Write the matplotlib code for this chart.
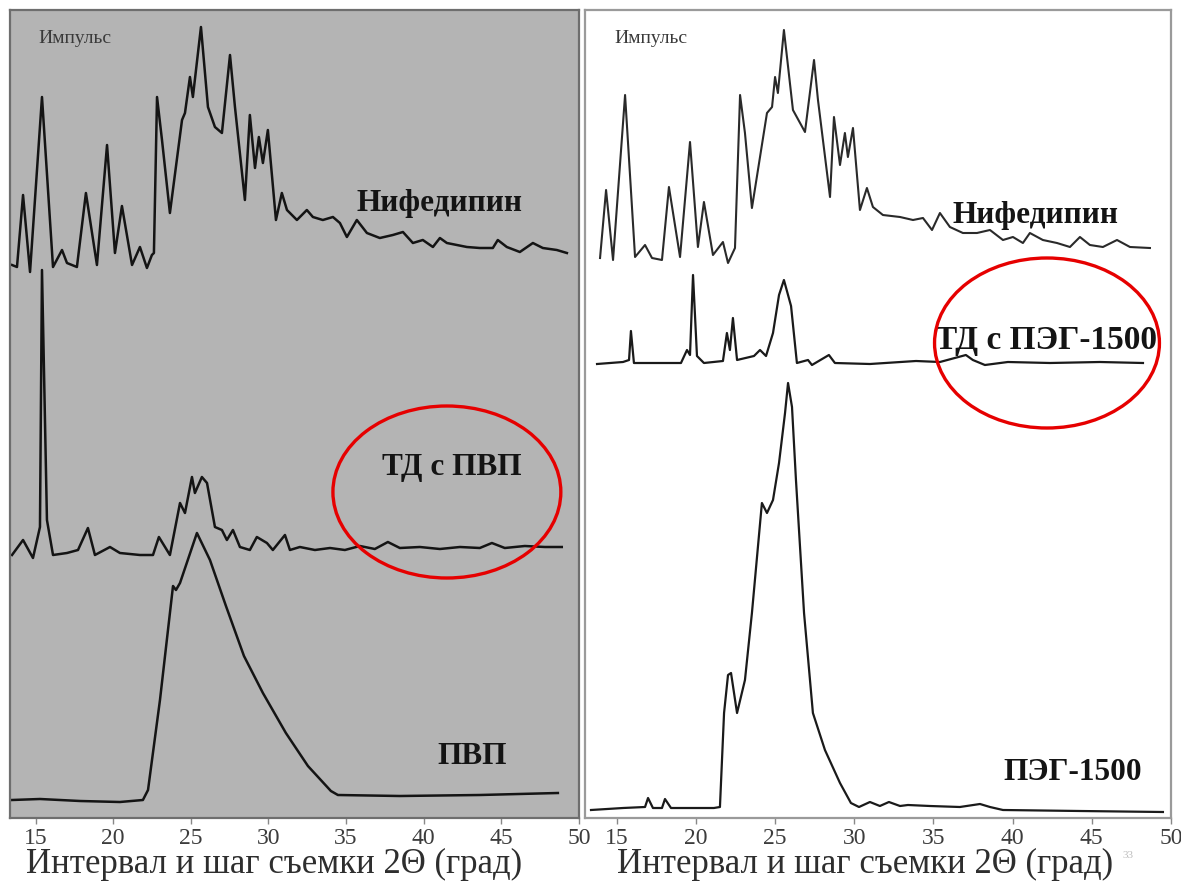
import matplotlib.pyplot as plt
from matplotlib.patches import Ellipse

plt.rcParams['font.family'] = ['Liberation Serif', 'DejaVu Serif']

# --- Рентгенограммы: 2θ (град) и интенсивность (импульсы, со смещением) ---

# левая панель: нифедипин, ТД с ПВП, ПВП
nif_l_2t = [13.48, 13.80, 14.19, 14.64, 15.41, 16.12, 16.70, 17.02, 17.66, 18.24,
            18.95, 19.60, 20.11, 20.56, 21.21, 21.72, 22.17, 22.49, 22.62, 22.82,
            23.14, 23.65, 24.43, 24.62, 24.94, 25.13, 25.65, 26.10, 26.55, 27.00,
            27.52, 27.84, 28.48, 28.80, 29.13, 29.38, 29.64, 29.96, 30.48, 30.86,
            31.19, 31.83, 32.47, 32.86, 33.50, 34.15, 34.60, 35.05, 35.69, 36.34,
            37.17, 38.01, 38.66, 39.30, 39.94, 40.59, 41.04, 41.49, 42.78, 43.61,
            44.45, 44.77, 45.35, 46.19, 47.03, 47.67, 48.57, 49.22]
nif_l_int = [553, 551, 623, 546, 721, 551, 568, 555, 551, 625,
             553, 673, 565, 612, 553, 571, 550, 563, 565, 721,
             678, 605, 698, 705, 741, 721, 791, 711, 691, 685,
             763, 711, 618, 703, 650, 681, 655, 688, 598, 625,
             608, 598, 608, 601, 598, 601, 595, 581, 598, 585,
             580, 583, 586, 575, 578, 571, 580, 575, 571, 570,
             570, 578, 571, 566, 575, 570, 568, 565]

tdpvp_2t = [13.48, 14.19, 14.83, 15.28, 15.41, 15.73, 16.12, 17.02, 17.73, 18.37,
            18.82, 19.79, 20.43, 21.72, 22.56, 22.94, 23.65, 24.30, 24.62, 25.07,
            25.26, 25.71, 26.04, 26.55, 27.00, 27.32, 27.71, 28.16, 28.80, 29.25,
            29.90, 30.28, 31.06, 31.38, 32.02, 32.99, 33.96, 34.92, 35.89, 36.85,
            37.69, 38.46, 39.75, 41.04, 42.33, 43.61, 44.39, 45.22, 46.51, 47.80,
            48.89]
tdpvp_int = [263, 278, 260, 291, 548, 298, 263, 265, 268, 290,
             263, 271, 265, 263, 263, 281, 263, 315, 305, 341,
             325, 341, 335, 291, 288, 278, 288, 271, 268, 281,
             275, 268, 283, 268, 271, 268, 270, 268, 272, 269,
             276, 270, 271, 269, 271, 270, 275, 270, 272, 271,
             271]

pvp_2t = [13.48, 15.28, 17.86, 20.43, 21.91, 22.24, 23.01, 23.85, 24.04, 24.30,
          25.39, 26.23, 27.26, 28.42, 29.64, 31.12, 32.54, 34.02, 34.47, 38.46,
          43.61, 48.64]
pvp_int = [18, 19, 17, 16, 18, 28, 118, 232, 228, 235,
           285, 258, 212, 162, 125, 85, 52, 27, 23, 22,
           23, 25]

# правая панель: нифедипин, ТД с ПЭГ-1500, ПЭГ-1500
nif_r_2t = [13.95, 14.33, 14.77, 15.53, 16.16, 16.79, 17.23, 17.86, 18.30, 19.00,
            19.63, 20.13, 20.51, 21.08, 21.71, 22.03, 22.47, 22.79, 23.10, 23.54,
            24.49, 24.81, 25.00, 25.18, 25.56, 26.13, 26.89, 27.46, 27.71, 28.47,
            28.72, 29.10, 29.41, 29.60, 29.92, 30.36, 30.80, 31.18, 31.81, 32.89,
            33.71, 34.34, 34.91, 35.41, 36.04, 36.86, 37.75, 38.57, 39.39, 40.02,
            40.65, 41.09, 41.91, 42.80, 43.62, 44.25, 44.88, 45.70, 46.59, 47.41,
            48.67]
nif_r_int = [560, 628, 558, 723, 561, 573, 560, 558, 631, 561,
             676, 571, 616, 563, 576, 555, 570, 723, 685, 610,
             705, 711, 741, 725, 788, 708, 686, 758, 718, 621,
             701, 653, 685, 661, 690, 608, 630, 611, 603, 601,
             598, 600, 588, 605, 591, 585, 585, 588, 578, 581,
             575, 585, 578, 575, 571, 581, 573, 571, 578, 571,
             570]

tdpeg_2t = [13.76, 15.40, 15.78, 15.90, 16.09, 19.06, 19.44, 19.63, 19.82, 20.07,
            20.51, 21.71, 21.96, 22.15, 22.34, 22.60, 23.67, 24.05, 24.43, 24.87,
            25.25, 25.56, 26.01, 26.38, 27.08, 27.33, 28.40, 28.78, 30.99, 33.90,
            35.41, 37.05, 37.49, 38.25, 39.70, 42.36, 45.51, 48.23]
tdpeg_int = [454, 456, 458, 487, 455, 455, 468, 463, 543, 462,
             455, 457, 485, 468, 500, 458, 462, 468, 462, 485,
             523, 538, 512, 455, 458, 453, 463, 455, 454, 457,
             456, 463, 458, 453, 456, 455, 456, 455]

peg_2t = [13.38, 15.40, 16.79, 16.98, 17.29, 17.86, 18.05, 18.43, 21.14, 21.52,
          21.78, 22.03, 22.22, 22.60, 23.10, 23.54, 24.17, 24.49, 24.87, 25.25,
          25.63, 25.82, 26.07, 26.32, 26.83, 27.39, 28.15, 29.10, 29.79, 30.30,
          30.99, 31.62, 32.19, 32.89, 33.39, 34.78, 36.67, 37.94, 38.57, 39.39,
          44.25, 49.49]
peg_int = [8, 10, 11, 20, 10, 10, 19, 10, 10, 11,
           105, 143, 145, 105, 138, 205, 315, 305, 318, 355,
           405, 435, 411, 338, 205, 105, 68, 35, 15, 11,
           16, 12, 16, 12, 13, 12, 11, 14, 11, 8,
           7, 6]

ticks = [15, 20, 25, 30, 35, 40, 45, 50]
xlabel = 'Интервал и шаг съемки 2Θ (град)'

fig = plt.figure(figsize=(11.81, 8.82), dpi=100)
ax_l = fig.add_axes([10 / 1181, 64 / 882, 569 / 1181, 808 / 882])
ax_r = fig.add_axes([585 / 1181, 64 / 882, 586 / 1181, 808 / 882])

ax_l.set_facecolor('#b4b4b4')
ax_r.set_facecolor('white')

ax_l.plot(nif_l_2t, nif_l_int, color='#141414', lw=1.8)
ax_l.plot(tdpvp_2t, tdpvp_int, color='#141414', lw=1.8)
ax_l.plot(pvp_2t, pvp_int, color='#141414', lw=1.8)

ax_r.plot(nif_r_2t, nif_r_int, color='#2a2a2a', lw=1.5)
ax_r.plot(tdpeg_2t, tdpeg_int, color='#1a1a1a', lw=1.6)
ax_r.plot(peg_2t, peg_int, color='#1a1a1a', lw=1.6)

ax_l.set_xlim(13.35, 50)
ax_r.set_xlim(13.0, 50)
for ax, edge in ((ax_l, '#6e6e6e'), (ax_r, '#9a9a9a')):
    ax.set_ylim(0, 808)
    ax.set_yticks([])
    ax.set_xticks(ticks)
    ax.tick_params(axis='x', direction='out', length=4, width=1, color='#888888',
                   labelsize=17, labelcolor='#3c3c3c', pad=3)
    for s in ax.spines.values():
        s.set_color(edge)
        s.set_linewidth(1.6)
    ax.text(0.05, 0.965, 'Импульс', transform=ax.transAxes, fontsize=14,
            color='#3a3a3a', va='center', ha='left')

bold = dict(fontsize=22.5, fontweight='bold', color='#141414', va='center', ha='left')
ax_l.text(35.69, 615, 'Нифедипин', **bold)
ax_l.text(37.30, 351, 'ТД с ПВП', **bold)
ax_l.text(40.85, 61, 'ПВП', **bold)
ax_r.text(36.23, 603, 'Нифедипин', **bold)
ax_r.text(35.10, 478, 'ТД с ПЭГ-1500', **dict(bold, fontsize=24))
ax_r.text(39.39, 45, 'ПЭГ-1500', **bold)

# выделенные области на рентгенограммах твердых дисперсий
ax_l.add_patch(Ellipse((41.49, 326), 14.68, 172, fill=False, ec='#e60000',
                       lw=2.4, clip_on=False, zorder=5))
ax_r.add_patch(Ellipse((42.17, 475), 14.2, 170, fill=False, ec='#e60000',
                       lw=2.4, clip_on=False, zorder=5))

fig.text(274 / 1181, 1 - 864 / 882, xlabel, fontsize=25, color='#2e2e2e',
         ha='center', va='center')
fig.text(865 / 1181, 1 - 864 / 882, xlabel, fontsize=25, color='#2e2e2e',
         ha='center', va='center')
fig.text(1128 / 1181, 1 - 856 / 882, '33', fontsize=8, color='#bdbdbd',
         ha='center', va='center')

fig.savefig('out.png', dpi=100)
